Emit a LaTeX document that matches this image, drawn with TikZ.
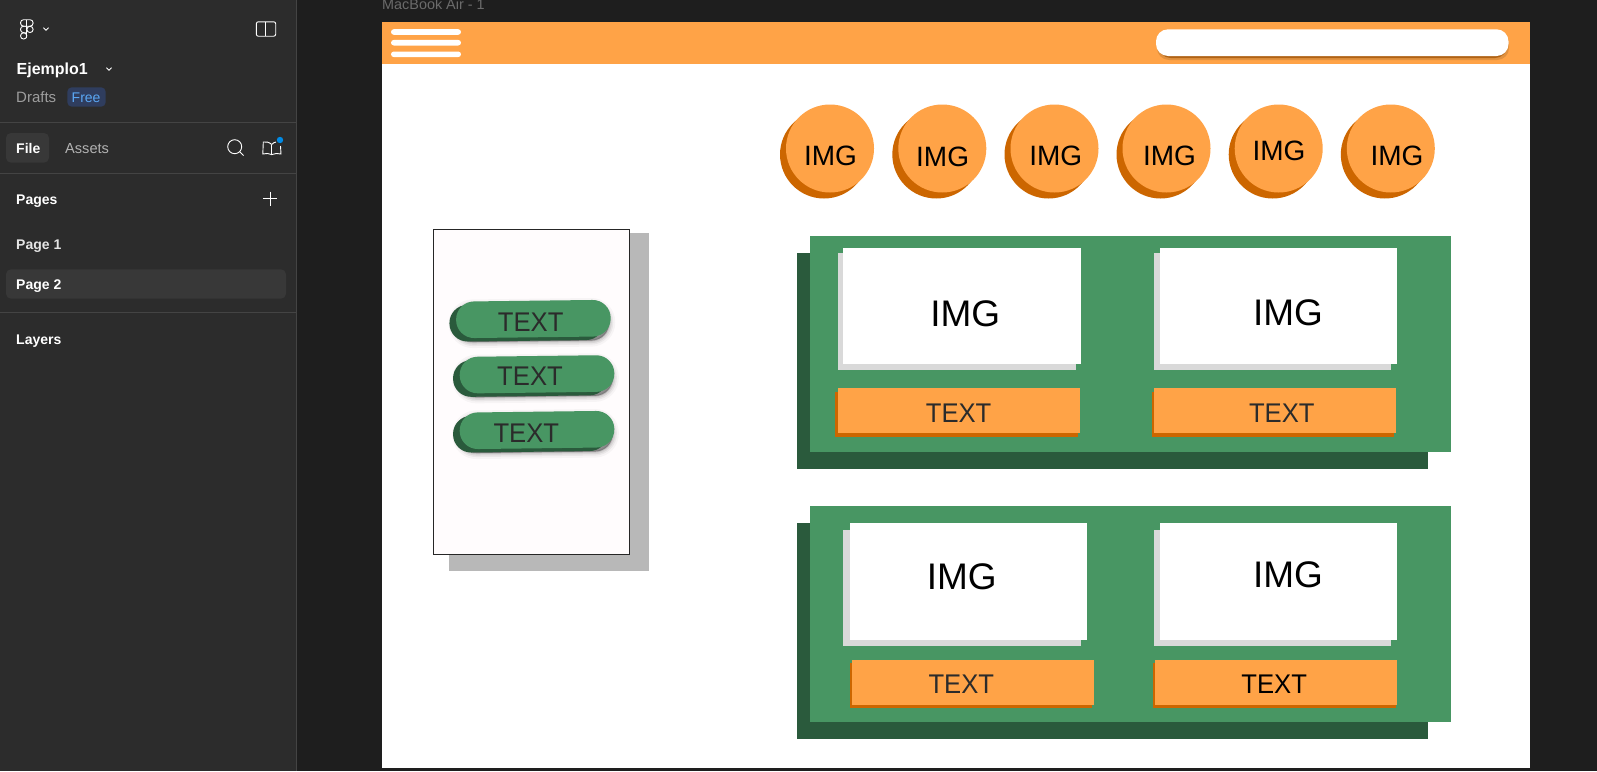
\documentclass[tikz,border=0pt]{standalone}
\usepackage{xcolor}
\usepackage{fontspec}
\setmainfont{Liberation Sans}
\newfontfamily\narrowfont[FakeStretch=0.95]{Liberation Sans}
\usepackage{tikz}

\definecolor{sidebar}{HTML}{2C2C2C}
\definecolor{canvasbg}{HTML}{1E1E1E}
\definecolor{rule}{HTML}{444444}
\definecolor{tabfill}{HTML}{383838}
\definecolor{badge}{HTML}{2F3D5E}
\definecolor{badgetext}{HTML}{5BA8F5}
\definecolor{mango}{HTML}{FFA347}
\definecolor{mangodark}{HTML}{CC6600}
\definecolor{leaf}{HTML}{489663}
\definecolor{leafdark}{HTML}{2A5A3C}
\definecolor{sheet}{HTML}{FFFCFD}

\tikzset{
  side/.style={inner sep=0, anchor=base west, text=white, font=\fontsize{14}{16}\selectfont},
  sidebold/.style={side, font=\fontsize{14}{16}\selectfont\bfseries},
  icon/.style={draw=white, line width=0.9},
  disc/.style={circle, inner sep=0, minimum size=88, fill=mango},
  discback/.style={disc, fill=mangodark, xshift=-6, yshift=-6},
  imgsmall/.style={inner sep=0, font=\fontsize{28}{30}\selectfont},
  imgbig/.style={inner sep=0, font=\fontsize{37}{39}\selectfont},
  textlabel/.style={inner sep=0, text=black!83, font=\narrowfont\fontsize{27}{29}\selectfont},
  pill/.style={inner sep=0, rotate=0.7, minimum width=154.6, minimum height=36.6, rounded corners=18, fill=leaf},
  pillback/.style={pill, fill=leafdark, xshift=-6.7, yshift=-3.4},
  pillglow/.style={pill, fill=none, xshift=-1.5, yshift=-4,
    preaction={fill=black, fill opacity=0.10, draw=black, draw opacity=0.03, line width=12},
    preaction={fill=black, fill opacity=0.10, draw=black, draw opacity=0.05, line width=8},
    preaction={fill=black, fill opacity=0.10, draw=black, draw opacity=0.07, line width=5},
    preaction={fill=black, fill opacity=0.10, draw=black, draw opacity=0.10, line width=2}},
  burger/.style={inner sep=0, minimum width=70, minimum height=5.6, rounded corners=2.8, fill=white},
}

\begin{document}
\begin{tikzpicture}[x=1pt, y=-1pt]
      \useasboundingbox (0, 0) rectangle (1597, 771);
      \clip (0, 0) rectangle (1597, 771);
      \fill [canvasbg] (0, 0) rectangle (1597, 771);

      % sidebar
      \fill [sidebar] (0, 0) rectangle (296, 771);
      \draw [rule, line width=1] (296.5, 0) -- (296.5, 771);
      \draw [rule, line width=1] (0, 122.5) -- (296, 122.5);
      \draw [rule, line width=1] (0, 173.5) -- (296, 173.5);
      \draw [rule, line width=1.5] (0, 312.7) -- (296, 312.7);

      \draw [icon, rounded corners=3.1] (20.5, 19.7) rectangle (33.1, 26.2);
      \draw [icon] (26.8, 19.7) -- (26.8, 38);
      \draw [icon, rounded corners=3.1] (26.8, 26.2) -- (20.5, 26.2) -- (20.5, 32.7) -- (26.8, 32.7);
      \draw [icon] (30, 29.4) circle [radius=3.15];
      \draw [icon] (23.65, 35.9) circle [radius=3.15];
      \draw [icon] (43.5, 27.7) -- (46, 30.2) -- (48.5, 27.7);

      \draw [icon, rounded corners=2] (256.3, 21.8) rectangle (275.7, 36.2);
      \draw [icon] (265.7, 21.8) -- (265.7, 36.2);

      \node [sidebold, font=\fontsize{16}{18}\selectfont\bfseries] (project) at (16.5, 74) {Ejemplo1};
      \draw [icon] (106.5, 67.7) -- (109, 70.2) -- (111.5, 67.7);
      \node [side, text=white!62!black, font=\fontsize{15}{17}\selectfont] (drafts) at (16, 102) {Drafts};
      \fill [badge, rounded corners=4.5] (67.3, 87.3) rectangle (105.7, 106.7);
      \node [side, text=badgetext] (free) at (71.5, 102) {Free};

      \fill [tabfill, rounded corners=5] (6, 133) rectangle (49, 162.7);
      \node [sidebold] (file) at (16, 153) {File};
      \node [side, text=white!70!black, font=\fontsize{14.6}{16}\selectfont] (assets) at (65, 153) {Assets};
      \draw [icon] (234.7, 146.7) circle [radius=7];
      \draw [icon] (239.7, 151.7) -- (243.5, 155.5);
      \draw [icon] (271.7, 144.5) .. controls (269, 142) and (266, 141.5) .. (263.3, 142) -- (262.8, 154) .. controls (266, 153.2) and (269, 153.2) .. (271.7, 154.6) .. controls (274.5, 153.2) and (278, 153.2) .. (281, 154) -- (280.5, 146);
      \draw [icon] (271.7, 144.5) -- (271.7, 154.6);
      \draw [icon] (271.7, 144.5) .. controls (273, 143) and (274.5, 142.3) .. (276, 142);
      \fill [blue!40!cyan!90!black] (280, 140) circle [radius=3.2];

      \node [sidebold] (pages) at (16, 204) {Pages};
      \draw [icon] (263.3, 198.7) -- (277.3, 198.7);
      \draw [icon] (270.3, 191.7) -- (270.3, 205.7);
      \node [side, font=\fontsize{14}{16}\selectfont\bfseries, text=white!90!black] (page1) at (16, 249) {Page 1};
      \fill [tabfill, rounded corners=5] (6, 269.3) rectangle (286, 298.7);
      \node [sidebold] (page2) at (16, 289) {Page 2};
      \node [sidebold] (layers) at (16, 344) {Layers};

      % frame
      \node [side, text=white!42!black, font=\fontsize{14.4}{16}\selectfont] (frametitle) at (382, 9.5) {MacBook Air - 1};
      \fill [white] (382, 22) rectangle (1530, 767.7);
      \fill [mango] (382, 22) rectangle (1530, 64);
      \node [burger] (line1) at (426, 32) {};
      \node [burger] (line2) at (426, 42.7) {};
      \node [burger] (line3) at (426, 54.3) {};
      \fill [black!12!mango, rounded corners=12] (1157, 31) rectangle (1509, 60);
      \fill [mangodark!70!black!70!mango, rounded corners=12] (1158.5, 31) rectangle (1507, 58);
      \fill [white, rounded corners=12] (1156, 29.3) rectangle (1508.5, 56);

      % round images
      \coordinate (C1) at (830, 148.5);
      \coordinate (C2) at (942.3, 148.5);
      \coordinate (C3) at (1054.5, 148.5);
      \coordinate (C4) at (1166.5, 148.5);
      \coordinate (C5) at (1278.7, 148.5);
      \coordinate (C6) at (1390.8, 148.5);

      \node [discback] (disc1b) at (C1) {};
      \node [discback] (disc2b) at (C2) {};
      \node [discback] (disc3b) at (C3) {};
      \node [discback] (disc4b) at (C4) {};
      \node [discback] (disc5b) at (C5) {};
      \node [discback] (disc6b) at (C6) {};
      \node [disc] (disc1) at (C1) {};
      \node [disc] (disc2) at (C2) {};
      \node [disc] (disc3) at (C3) {};
      \node [disc] (disc4) at (C4) {};
      \node [disc] (disc5) at (C5) {};
      \node [disc] (disc6) at (C6) {};
      \node [imgsmall] (disc1t) at (830.5, 155.5) {IMG};
      \node [imgsmall] (disc2t) at (942.6, 156.5) {IMG};
      \node [imgsmall] (disc3t) at (1055.8, 155.5) {IMG};
      \node [imgsmall] (disc4t) at (1169.5, 155.8) {IMG};
      \node [imgsmall] (disc5t) at (1279, 151.1) {IMG};
      \node [imgsmall] (disc6t) at (1397, 155.5) {IMG};

      % left panel
      \fill [black!28] (449.3, 233.3) rectangle (649.3, 570.7);
      \draw [fill=sheet, draw=black!85, line width=1] (433.5, 229.5) rectangle (629.3, 554.3);

      \coordinate (P1) at (533.4, 319);
      \coordinate (P2) at (537, 374.3);
      \coordinate (P3) at (537, 430);

      \node [pillglow] (pill1g) at (P1) {};
      \node [pillback] (pill1b) at (P1) {};
      \node [pill] (pill1) at (P1) {};
      \node [textlabel] (pill1t) at (530.7, 322.5) {TEXT};

      \node [pillglow] (pill2g) at (P2) {};
      \node [pillback] (pill2b) at (P2) {};
      \node [pill] (pill2) at (P2) {};
      \node [textlabel] (pill2t) at (530, 375.8) {TEXT};

      \node [pillglow] (pill3g) at (P3) {};
      \node [pillback] (pill3b) at (P3) {};
      \node [pill] (pill3) at (P3) {};
      \node [textlabel] (pill3t) at (526.3, 433.1) {TEXT};

      % top card
      \fill [leafdark] (796.5, 253.3) rectangle (1428, 468.7);
      \fill [leaf] (810, 236.3) rectangle (1451, 452.3);
      \fill [black!15] (837.6, 253.3) rectangle (1075.5, 370);
      \fill [white] (843, 248) rectangle (1081, 364.3);
      \fill [black!15] (1153.7, 253.3) rectangle (1391.2, 370);
      \fill [white] (1159.5, 248) rectangle (1397.4, 364.3);
      \node [imgbig] (card1a) at (965.3, 313.3) {IMG};
      \node [imgbig] (card1b) at (1288, 312.3) {IMG};
      \fill [mangodark] (835.4, 391.7) rectangle (1077.8, 436.7);
      \fill [mango] (837.6, 388) rectangle (1080, 432.7);
      \fill [mangodark] (1151.9, 391.7) rectangle (1393.8, 436.7);
      \fill [mango] (1153.7, 388) rectangle (1396, 432.7);
      \node [textlabel] (card1c) at (958.6, 413.3) {TEXT};
      \node [textlabel] (card1d) at (1281.8, 413.3) {TEXT};

      % bottom card
      \fill [leafdark] (796.5, 523.3) rectangle (1428, 738.7);
      \fill [leaf] (810, 506.3) rectangle (1451, 722.3);
      \fill [black!15] (843, 530) rectangle (1081, 646);
      \fill [white] (849.6, 523.3) rectangle (1087, 639.7);
      \fill [black!15] (1153.7, 530) rectangle (1391.2, 646);
      \fill [white] (1159.5, 523.3) rectangle (1397.4, 639.7);
      \node [imgbig] (card2a) at (961.7, 576.7) {IMG};
      \node [imgbig] (card2b) at (1288, 575) {IMG};
      \fill [mangodark] (850, 663) rectangle (1092, 707.6);
      \fill [mango] (851.9, 660) rectangle (1094.3, 704.7);
      \fill [mangodark] (1153.2, 663) rectangle (1396, 707.6);
      \fill [mango] (1155, 660) rectangle (1397.4, 704.7);
      \node [textlabel] (card2c) at (961.3, 684) {TEXT};
      \node [textlabel, text=black] (card2d) at (1274.2, 684) {TEXT};
    \end{tikzpicture}
\end{document}
